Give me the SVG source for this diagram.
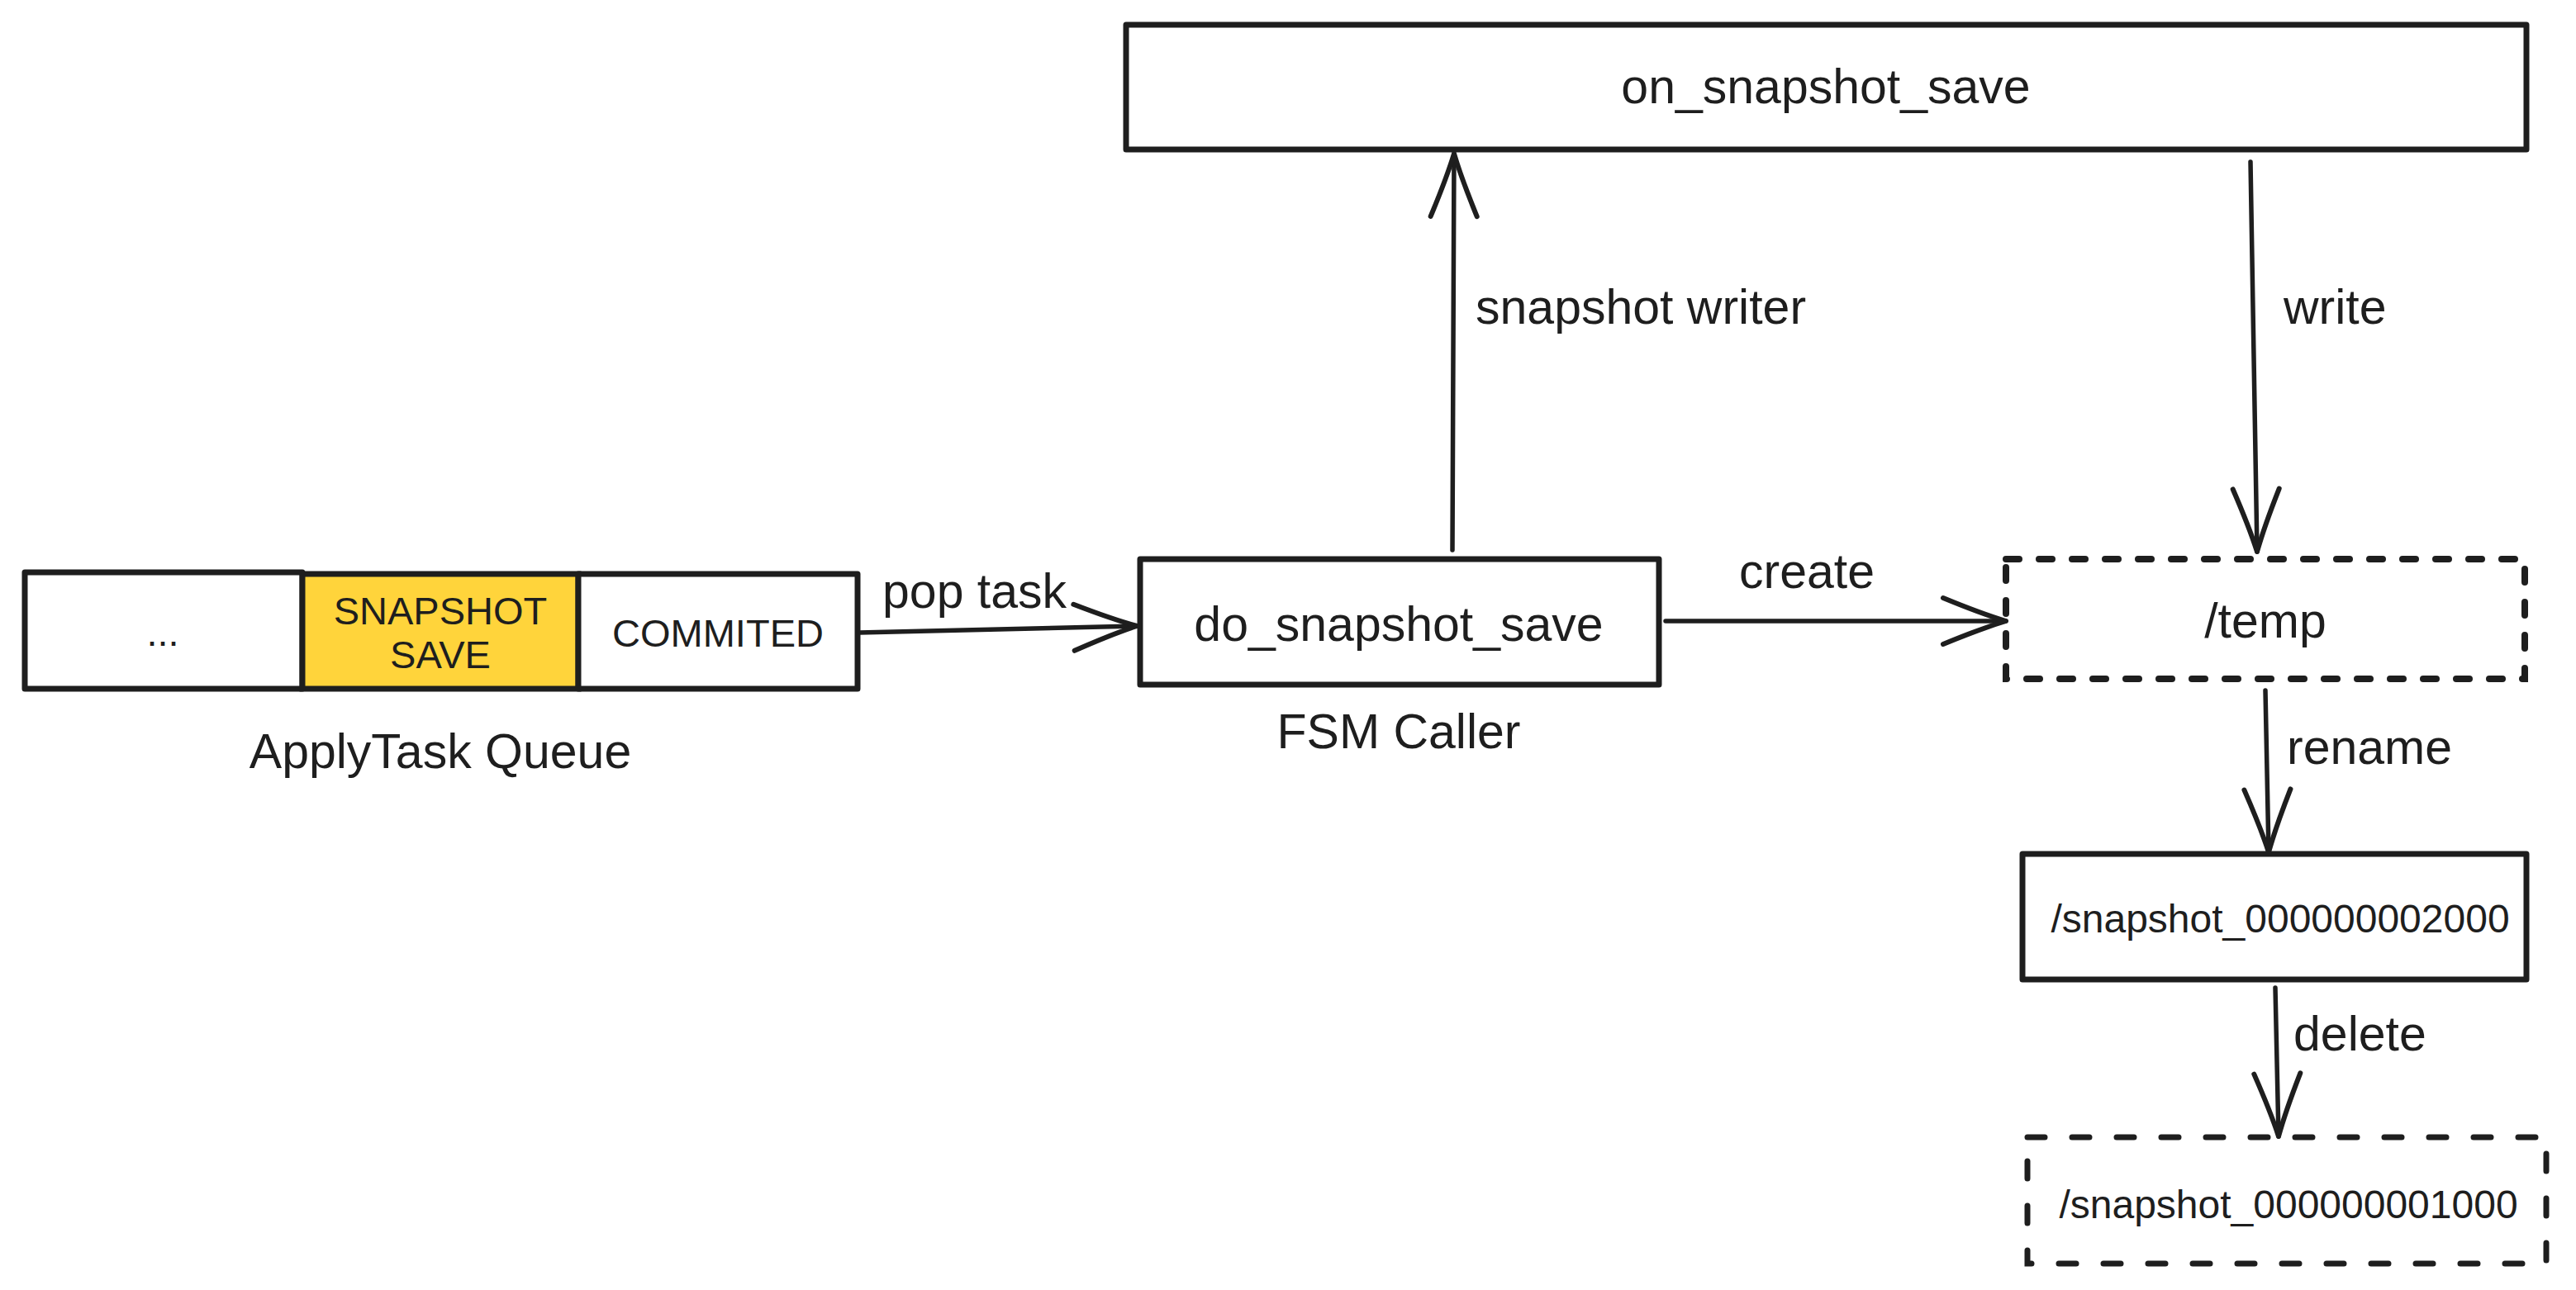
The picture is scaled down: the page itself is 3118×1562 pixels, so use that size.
<svg xmlns="http://www.w3.org/2000/svg" width="3118" height="1562" viewBox="0 0 3118 1562">
<style>
  .box{fill:#ffffff;stroke:#1e1e1e;stroke-width:7;stroke-linejoin:round}
  .dashS{fill:none;stroke:#1e1e1e;stroke-width:8;stroke-dasharray:16 24;stroke-linecap:round}
  .dashL{fill:none;stroke:#1e1e1e;stroke-width:7;stroke-dasharray:21 33;stroke-linecap:round}
  .conn{fill:none;stroke:#1e1e1e;stroke-width:5.5;stroke-linecap:round}
  text{font-family:"Liberation Sans",Arial,Helvetica,sans-serif;fill:#1e1e1e}
  .lbl{font-size:59px}
  .cell{font-size:47px;text-anchor:middle}
  .file{font-size:48px;text-anchor:middle}
  .mid{text-anchor:middle}
</style>
<defs>
  <marker id="arr" markerUnits="userSpaceOnUse" markerWidth="92" markerHeight="76" viewBox="-84 -38 92 76" refX="0" refY="0" orient="auto">
    <path d="M-76,-28 Q-30,-9 0,0 Q-30,9 -76,28" fill="none" stroke="#1e1e1e" stroke-width="6" stroke-linecap="round" stroke-linejoin="round"/>
  </marker>
</defs>
<rect width="3118" height="1562" fill="#ffffff"/>

<g id="connectors">
  <path class="conn" d="M1040,766 L1376,758" marker-end="url(#arr)"/>
  <text class="lbl" x="1068" y="736">pop task</text>
  <path class="conn" d="M1758,666 L1760,186" marker-end="url(#arr)"/>
  <text class="lbl" x="1786" y="392">snapshot writer</text>
  <path class="conn" d="M2724,196 L2732,668" marker-end="url(#arr)"/>
  <text class="lbl" x="2764" y="392">write</text>
  <path class="conn" d="M2016,752 L2428,752" marker-end="url(#arr)"/>
  <text class="lbl mid" x="2187" y="712">create</text>
  <path class="conn" d="M2742,836 L2746,1032" marker-end="url(#arr)"/>
  <text class="lbl" x="2768" y="925">rename</text>
  <path class="conn" d="M2754,1196 L2758,1376" marker-end="url(#arr)"/>
  <text class="lbl" x="2776" y="1272">delete</text>
</g>

<g id="queue">
  <rect class="box" x="30" y="693" width="336" height="141"/>
  <rect x="366" y="695" width="334" height="139" fill="#ffd43b" stroke="#1e1e1e" stroke-width="7"/>
  <rect class="box" x="700" y="695" width="338" height="139"/>
  <text class="cell" x="197" y="782">...</text>
  <text class="cell" x="533" y="756">SNAPSHOT</text>
  <text class="cell" x="533" y="809">SAVE</text>
  <text class="cell" x="869" y="783">COMMITED</text>
  <text class="lbl mid" x="533" y="930">ApplyTask Queue</text>
</g>

<g id="do_snapshot_save">
  <rect class="box" x="1380" y="677" width="628" height="152"/>
  <text class="lbl mid" x="1693" y="776">do_snapshot_save</text>
  <text class="lbl mid" x="1693" y="906">FSM Caller</text>
</g>

<g id="on_snapshot_save">
  <rect class="box" x="1363" y="30" width="1695" height="151"/>
  <text class="lbl mid" x="2210" y="125">on_snapshot_save</text>
</g>

<g id="temp">
  <rect class="dashS" x="2428" y="677" width="628" height="145"/>
  <text class="lbl mid" x="2742" y="772">/temp</text>
</g>

<g id="snapshot_2000">
  <rect class="box" x="2448" y="1034" width="610" height="152"/>
  <text class="file" x="2760" y="1129">/snapshot_000000002000</text>
</g>

<g id="snapshot_1000">
  <rect class="dashL" x="2454" y="1377" width="628" height="153"/>
  <text class="file" x="2770" y="1475">/snapshot_000000001000</text>
</g>
</svg>
